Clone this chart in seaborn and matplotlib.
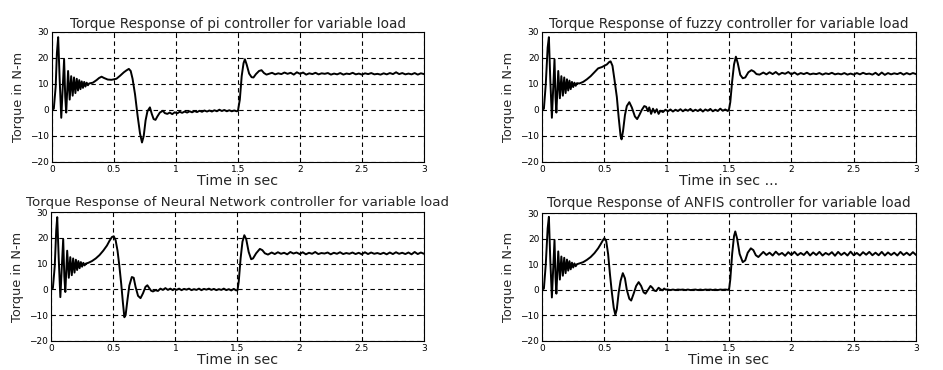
import matplotlib
matplotlib.use("Agg")
import matplotlib.pyplot as plt
import seaborn as sns
import pandas as pd

# ---------------- data ----------------
titles = [
    "Torque Response of pi controller for variable load",
    "Torque Response of fuzzy controller for variable load",
    "Torque Response of Neural Network controller for variable load",
    "Torque Response of ANFIS controller for variable load",
]
xlabels = ["Time in sec", "Time in sec ...", "Time in sec", "Time in sec"]
ylabel = "Torque in N-m"
xticks = [0, 0.5, 1, 1.5, 2, 2.5, 3]
xtick_labels = ["0", "0.5", "1", "1.5", "2", "2.5", "3"]
yticks = [-20, -10, 0, 10, 20, 30]

# shared sample times for the noisy flat stretches
t_mid = [1.01, 1.03, 1.05, 1.07, 1.09, 1.11, 1.13, 1.15, 1.17, 1.19, 1.21, 1.23, 1.25,
         1.27, 1.29, 1.31, 1.33, 1.35, 1.37, 1.39, 1.41, 1.43, 1.45, 1.47, 1.49]
t_tail = [1.775, 1.8, 1.825, 1.85, 1.875, 1.9, 1.925, 1.95, 1.975, 2.0, 2.025, 2.05,
          2.075, 2.1, 2.125, 2.15, 2.175, 2.2, 2.225, 2.25, 2.275, 2.3, 2.325, 2.35,
          2.375, 2.4, 2.425, 2.45, 2.475, 2.5, 2.525, 2.55, 2.575, 2.6, 2.625, 2.65,
          2.675, 2.7, 2.725, 2.75, 2.775, 2.8, 2.825, 2.85, 2.875, 2.9, 2.925, 2.95,
          2.975, 3.0]

# ---- PI controller ----
t_pi_head = [0, 0.015, 0.03, 0.04, 0.05, 0.062, 0.075, 0.088, 0.098, 0.107, 0.115,
             0.13, 0.143, 0.155, 0.167, 0.178, 0.189, 0.2, 0.21, 0.22, 0.23, 0.24, 0.25,
             0.26, 0.27, 0.28, 0.29, 0.3, 0.33, 0.36, 0.38, 0.4, 0.42, 0.45, 0.48, 0.52,
             0.55, 0.58, 0.6, 0.62, 0.635, 0.65, 0.67, 0.69, 0.71, 0.726, 0.74, 0.755,
             0.77, 0.79, 0.805, 0.82, 0.835, 0.85, 0.87, 0.895, 0.91, 0.93, 0.95, 0.97, 0.99]
y_pi_head = [0, 0.5, 9, 22, 28, 12, -3, 10, 19.5, 5, -1,
             15, 4, 13, 5.5, 12.5, 6.5, 12, 7.5, 11.5, 8, 11, 8.5,
             10.8, 9, 10.5, 9.5, 10.2, 10.5, 11.5, 12.3, 12.8, 12.3, 11.7, 11.6, 12,
             13.2, 14.5, 15.2, 15.8, 15, 12, 6, -2, -9, -12.5, -10, -4,
             -0.5, 1, -1.5, -3.5, -3.8, -2.5, -1, -0.3, -1.2, -1.5, -1, -1.6, -0.9]
y_pi_mid = [-1.3, -0.7, -1.1, -0.6, -1.0, -0.5, -0.9, -0.4, -0.8, -0.3, -0.7, -0.2, -0.6,
            -0.2, -0.6, -0.1, -0.5, 0.1, -0.4, 0.0, -0.5, -0.1, -0.5, -0.2, -0.5]
t_pi_step = [1.5, 1.515, 1.53, 1.545, 1.556, 1.57, 1.59, 1.61, 1.625, 1.645, 1.67, 1.69,
             1.71, 1.73, 1.75]
y_pi_step = [-0.3, 4, 13, 18, 19.5, 17.5, 14, 12.6, 12.5, 13.8, 15, 15.3, 14.2, 13.6, 13.9]
y_pi_tail = [14.3, 13.7, 14.1, 13.8, 14.4, 13.9, 14.3, 13.6, 14.5, 13.9, 14.4, 13.6,
             14.1, 13.8, 14.3, 13.7, 14.1, 13.9, 14.2, 13.6, 14.0, 13.7, 14.2, 13.6,
             14.0, 13.8, 14.3, 13.7, 14.0, 13.6, 14.1, 13.8, 14.2, 13.7, 13.9, 13.6,
             14.1, 13.7, 14.2, 13.8, 14.5, 13.8, 14.2, 13.7, 14.0, 13.7, 14.2, 13.6,
             14.1, 13.8]

# ---- Fuzzy controller ----
t_fz_head = [0, 0.015, 0.03, 0.045, 0.055, 0.066, 0.079, 0.091, 0.1, 0.108, 0.115,
             0.13, 0.143, 0.155, 0.167, 0.178, 0.189, 0.2, 0.21, 0.22, 0.23, 0.24, 0.25,
             0.26, 0.27, 0.28, 0.3, 0.33, 0.36, 0.39, 0.42, 0.45, 0.48, 0.5, 0.52, 0.54,
             0.55, 0.565, 0.58, 0.6, 0.615, 0.63, 0.638, 0.65, 0.665, 0.68, 0.7, 0.72,
             0.745, 0.763, 0.78, 0.8, 0.82, 0.835, 0.85, 0.86, 0.875, 0.89, 0.905, 0.92,
             0.935, 0.95, 0.97, 0.99]
y_fz_head = [0, 0.5, 10, 24, 28, 12, -3, 10, 19.5, 5, -1,
             15, 4.5, 13, 5.5, 12.5, 6.5, 11.8, 7.5, 11.3, 8, 10.8, 8.8,
             10.5, 9.3, 10.3, 10.2, 10.8, 11.8, 13, 14.5, 16, 16.5, 17, 17.5, 18.5,
             18.7, 17, 12, 5, -3, -10, -11.3, -8, -2, 1.5, 3, 1,
             -2.5, -3.5, -2, 0, 1.5, 1.2, -0.5, 1, -1.5, 0.5, -1, 0.3,
             -1.5, -0.3, -0.8, 0.1]
y_fz_mid = [-0.5, 0.2, -0.6, 0.1, -0.4, 0.3, -0.5, 0.2, -0.3, 0.4, -0.5, 0.1, -0.4,
            0.3, -0.6, 0.2, -0.3, 0.4, -0.5, 0.1, -0.4, 0.5, -0.3, 0.2, -0.4]
t_fz_step = [1.5, 1.51, 1.525, 1.54, 1.555, 1.57, 1.59, 1.61, 1.63, 1.655, 1.68, 1.7,
             1.72, 1.745, 1.76]
y_fz_step = [0.3, 3, 11, 17.5, 20.5, 18, 13.5, 12.2, 12.5, 14.5, 15.3, 14.8, 13.8, 13.6, 14.0]
y_fz_tail = [14.4, 13.7, 14.5, 13.8, 14.6, 13.6, 14.3, 13.9, 14.6, 13.7, 14.4, 13.6,
             14.2, 13.8, 14.3, 13.7, 14.0, 13.8, 14.2, 13.6, 14.1, 13.8, 14.3, 13.7,
             14.0, 13.7, 14.2, 13.6, 14.0, 13.6, 14.2, 13.7, 14.3, 13.8, 14.0, 13.6,
             14.3, 13.4, 14.4, 13.5, 14.2, 13.7, 14.1, 13.8, 14.3, 13.6, 14.2, 13.7,
             14.2, 13.8]

# ---- Neural Network controller ----
t_nn_head = [0, 0.015, 0.03, 0.042, 0.05, 0.062, 0.075, 0.088, 0.098, 0.107, 0.115,
             0.13, 0.143, 0.155, 0.167, 0.178, 0.189, 0.2, 0.21, 0.22, 0.23, 0.24, 0.25,
             0.26, 0.27, 0.28, 0.3, 0.33, 0.36, 0.39, 0.42, 0.45, 0.47, 0.49, 0.505, 0.52,
             0.535, 0.55, 0.565, 0.578, 0.59, 0.6, 0.615, 0.63, 0.65, 0.665, 0.68, 0.7,
             0.72, 0.74, 0.76, 0.775, 0.79, 0.805, 0.82, 0.84, 0.86, 0.88, 0.9, 0.92,
             0.94, 0.96, 0.98, 0.99]
y_nn_head = [0, 0.5, 9, 23, 28, 12, -3, 10, 19.5, 5, -1,
             15, 4.5, 12.5, 5.5, 12, 6.5, 11.5, 7.5, 11, 8.2, 10.6, 8.8,
             10.3, 9.3, 10, 10.3, 11, 12, 13.3, 15, 17, 18.8, 20.3, 20.6, 19,
             15, 9, 2, -5, -10.8, -10, -4, 1.5, 4.8, 4.5, 1, -2.5,
             -3.4, -1.5, 1, 1.6, 0.5, -0.5, -0.8, -0.3, -0.6, 0.3, -0.2, 0.5,
             -0.2, 0.3, -0.3, 0.2]
y_nn_mid = [-0.2, 0.3, -0.3, 0.2, -0.1, 0.3, -0.3, 0.1, -0.2, 0.3, -0.3, 0.2, -0.1,
            0.3, -0.2, 0.2, -0.3, 0.1, -0.2, 0.3, -0.3, 0.1, -0.4, 0.2, -0.4]
t_nn_step = [1.5, 1.51, 1.525, 1.54, 1.555, 1.57, 1.59, 1.61, 1.625, 1.65, 1.68, 1.7,
             1.72, 1.745, 1.76]
y_nn_step = [-0.3, 3, 12, 18.5, 21, 19.5, 14.5, 11.7, 12, 14, 15.7, 15.2, 14, 13.5, 13.9]
y_nn_tail = [14.3, 13.7, 14.4, 13.8, 14.2, 13.6, 14.5, 13.9, 14.3, 13.7, 14.4, 13.6,
             14.2, 13.8, 14.5, 13.7, 14.1, 13.9, 14.3, 13.6, 14.2, 13.8, 14.4, 13.7,
             14.1, 13.8, 14.3, 13.7, 14.2, 13.6, 14.4, 13.7, 14.3, 13.8, 14.1, 13.7,
             14.2, 13.6, 14.3, 13.7, 14.4, 13.8, 14.2, 13.7, 14.3, 13.6, 14.5, 13.7,
             14.3, 13.8]

# ---- ANFIS controller ----
t_af_head = [0, 0.015, 0.03, 0.045, 0.055, 0.066, 0.079, 0.091, 0.1, 0.108, 0.115,
             0.13, 0.143, 0.155, 0.167, 0.178, 0.189, 0.2, 0.21, 0.22, 0.23, 0.24, 0.25,
             0.26, 0.27, 0.28, 0.3, 0.33, 0.36, 0.39, 0.42, 0.45, 0.47, 0.49, 0.5, 0.515,
             0.53, 0.545, 0.56, 0.575, 0.588, 0.6, 0.615, 0.63, 0.648, 0.665, 0.68, 0.7,
             0.715, 0.735, 0.755, 0.775, 0.795, 0.815, 0.83, 0.85, 0.87, 0.885, 0.9, 0.915,
             0.935, 0.95, 0.965, 0.98, 0.99]
y_af_head = [0, 0.5, 10, 24, 28.5, 12, -3, 10, 19.5, 5, -1.5,
             15, 4, 13, 5.5, 12.5, 6.5, 11.8, 7.5, 11.2, 8, 10.6, 8.7,
             10.3, 9.2, 10, 10.3, 10.8, 11.7, 12.8, 14.3, 16.2, 17.8, 19.5, 20.2, 19,
             14, 6, -1, -7, -9.8, -7.5, -1, 3.5, 6.5, 4.5, 0, -3.5,
             -4.2, -1.5, 1.5, 3, 1.5, -1, -1.5, 0, 1.5, 0.8, -0.3, -0.5,
             0.8, 0.2, -0.2, 0.5, 0.1]
y_af_mid = [0.1, -0.1, 0.1, -0.1, 0.1, 0.0, 0.1, -0.1, 0.1, -0.1, 0.0, 0.1, -0.1,
            0.1, -0.1, 0.1, 0.0, 0.1, -0.1, 0.1, -0.1, 0.1, 0.0, 0.1, 0.0]
t_af_step = [1.5, 1.51, 1.525, 1.54, 1.55, 1.565, 1.585, 1.61, 1.63, 1.65, 1.675, 1.695,
             1.715, 1.735, 1.755]
y_af_step = [0.0, 4, 14, 21, 22.8, 20, 14, 10.8, 11.5, 14.5, 16.2, 15.5, 13.5, 12.8, 13.8]
y_af_tail = [14.8, 13.6, 14.5, 13.4, 14.9, 13.7, 14.4, 13.3, 14.7, 13.6, 14.8, 13.5,
             14.4, 13.6, 14.9, 13.4, 14.6, 13.6, 14.8, 13.4, 14.4, 13.7, 14.7, 13.3,
             14.8, 13.6, 14.5, 13.4, 14.9, 13.5, 14.4, 13.4, 14.7, 13.7, 14.8, 13.5,
             14.5, 13.5, 14.8, 13.4, 14.6, 13.6, 14.5, 13.4, 14.8, 13.6, 14.5, 13.5,
             14.7, 13.6]

series = [
    (t_pi_head + t_mid + t_pi_step + t_tail, y_pi_head + y_pi_mid + y_pi_step + y_pi_tail),
    (t_fz_head + t_mid + t_fz_step + t_tail, y_fz_head + y_fz_mid + y_fz_step + y_fz_tail),
    (t_nn_head + t_mid + t_nn_step + t_tail, y_nn_head + y_nn_mid + y_nn_step + y_nn_tail),
    (t_af_head + t_mid + t_af_step + t_tail, y_af_head + y_af_mid + y_af_step + y_af_tail),
]

# ---------------- figure ----------------
sns.set_style("white")
plt.rcParams["font.family"] = ["DejaVu Sans"]

fig = plt.figure(figsize=(9.43, 3.70), dpi=100)
positions = [
    [0.0551, 0.5622, 0.3945, 0.3514],
    [0.5748, 0.5622, 0.3966, 0.3514],
    [0.0541, 0.0784, 0.3955, 0.3486],
    [0.5748, 0.0784, 0.3966, 0.3459],
]
title_sizes = [9.8, 9.8, 9.6, 9.8]
title_pads = [3, 3, 4.5, 4.5]

for pos, (t, y), title, xl, tsz, tpad in zip(positions, series, titles, xlabels,
                                            title_sizes, title_pads):
    ax = fig.add_axes(pos)
    df = pd.DataFrame({"t": t, "y": y})
    sns.lineplot(data=df, x="t", y="y", ax=ax, color="black", linewidth=1.4,
                 sort=False, estimator=None)
    ax.set_xlim(0, 3)
    ax.set_ylim(-20, 30)
    ax.set_xticks(xticks)
    ax.set_xticklabels(xtick_labels)
    ax.set_yticks(yticks)
    ax.grid(True, color="black", linestyle=(0, (4, 3)), linewidth=0.8)
    for s in ax.spines.values():
        s.set_color("black")
        s.set_linewidth(0.8)
    ax.tick_params(direction="in", length=3, width=0.6, labelsize=6.5, pad=2,
                   colors="black", top=True, right=True)
    ax.set_title(title, fontsize=tsz, pad=tpad)
    ax.set_xlabel(xl, fontsize=10.3, labelpad=0)
    ax.set_ylabel(ylabel, fontsize=9.3, labelpad=4)

fig.savefig("out.png", dpi=100, facecolor="white")
